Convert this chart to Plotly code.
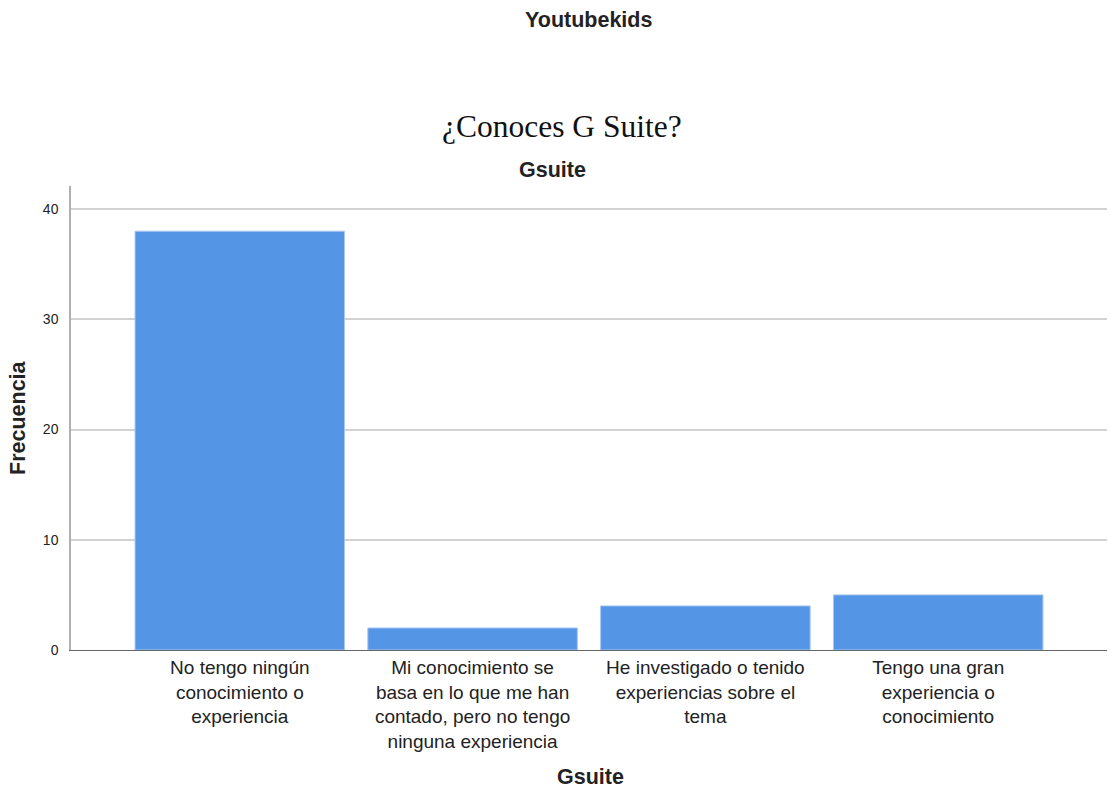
import plotly.graph_objects as go

categories = [
    "No tengo ningún<br>conocimiento o<br>experiencia",
    "Mi conocimiento se<br>basa en lo que me han<br>contado, pero no tengo<br>ninguna experiencia",
    "He investigado o tenido<br>experiencias sobre el<br>tema",
    "Tengo una gran<br>experiencia o<br>conocimiento",
]
frecuencia = [38, 2, 4, 5]
y_ticks = [0, 10, 20, 30, 40]

W, H = 1110, 791
L, R, T, B = 71, 1107, 186, 650


def px(x):
    return (x - L) / (R - L)


def py(y):
    return (B - y) / (B - T)


fig = go.Figure(
    go.Bar(
        x=list(range(len(categories))),
        y=frecuencia,
        marker=dict(color="#5595e5", line=dict(color="#a8c8f2", width=1)),
        width=0.9,
    )
)

fig.update_layout(
    width=W,
    height=H,
    margin=dict(l=L, r=W - R, t=T, b=H - B, autoexpand=False),
    paper_bgcolor="white",
    plot_bgcolor="white",
    showlegend=False,
    font=dict(family="Liberation Sans, Arial, sans-serif", color="#222"),
    xaxis=dict(
        tickmode="array",
        tickvals=list(range(len(categories))),
        ticktext=categories,
        range=[-0.725, 3.725],
        showgrid=False,
        showline=True,
        linecolor="#666",
        linewidth=1,
        ticks="",
        tickfont=dict(size=19, color="#222"),
        tickangle=0,
        zeroline=False,
    ),
    yaxis=dict(
        range=[0, 42.1],
        tickvals=y_ticks,
        showgrid=True,
        gridcolor="#d2d2d2",
        gridwidth=1.5,
        showline=True,
        linecolor="#b0b0b0",
        linewidth=1.5,
        ticks="",
        ticklabelstandoff=8,
        tickfont=dict(size=14, color="#222"),
        zeroline=False,
    ),
    annotations=[
        dict(text="<b>Youtubekids</b>", x=px(588), y=py(20), xref="paper", yref="paper",
             showarrow=False, font=dict(size=21.5, color="#222"), xanchor="center", yanchor="middle"),
        dict(text="¿Conoces G Suite?", x=px(562), y=py(127), xref="paper", yref="paper",
             showarrow=False, font=dict(size=31.5, family="Liberation Serif, Times New Roman, serif", color="#111"),
             xanchor="center", yanchor="middle"),
        dict(text="<b>Gsuite</b>", x=px(552), y=py(170), xref="paper", yref="paper",
             showarrow=False, font=dict(size=21.5, color="#222"), xanchor="center", yanchor="middle"),
        dict(text="<b>Gsuite</b>", x=px(590), y=py(777), xref="paper", yref="paper",
             showarrow=False, font=dict(size=21.5, color="#222"), xanchor="center", yanchor="middle"),
        dict(text="<b>Frecuencia</b>", x=px(18), y=py(418), xref="paper", yref="paper",
             showarrow=False, font=dict(size=21.5, color="#222"), xanchor="center", yanchor="middle",
             textangle=-90),
    ],
)

fig.write_html(
    "out.html",
    config={"displayModeBar": False},
    post_script="document.body.style.margin='0';document.body.style.overflow='hidden';",
)
